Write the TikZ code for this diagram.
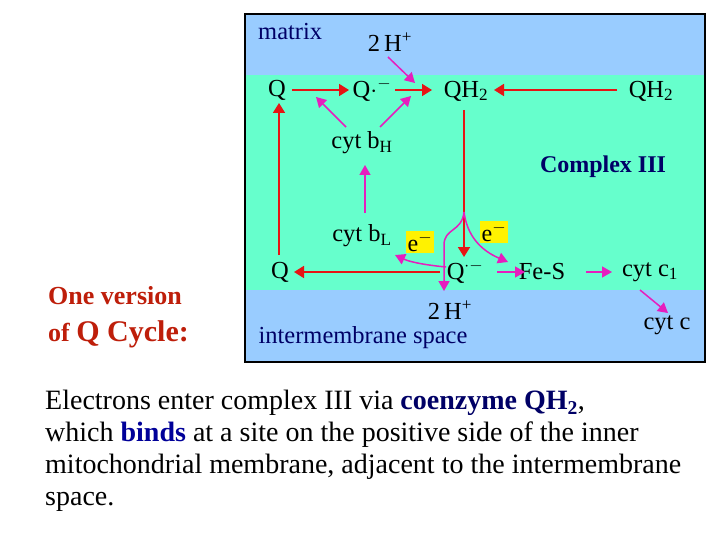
\documentclass[tikz,border=0pt]{standalone}
\usepackage{fontspec}
\setmainfont{Liberation Serif}
\usetikzlibrary{arrows.meta}
\begin{document}
\begin{tikzpicture}[x=1pt,y=-1pt,
 lbl/.style={font=\fontsize{24.5}{26}\selectfont, inner sep=0pt},
 red/.style={draw={rgb,255:red,200;green,40;blue,20}, line width=1.8pt, -{Triangle[length=10pt,width=12pt]}, color={rgb,255:red,230;green,20;blue,20}},
 mag/.style={draw={rgb,255:red,170;green,40;blue,170}, line width=1.5pt, -{Triangle[length=10pt,width=11pt]}, color={rgb,255:red,230;green,30;blue,190}},
 eb/.style={fill=yellow, font=\fontsize{24}{26}\selectfont, inner sep=1.5pt}]
\useasboundingbox (0,0) rectangle (720,540);
\fill[white] (0,0) rectangle (720,540);
\definecolor{mblue}{RGB}{153,204,255}
\definecolor{teal2}{RGB}{102,255,204}
\definecolor{dblue}{RGB}{0,0,102}
\definecolor{dred}{RGB}{190,30,10}
\fill[mblue] (245,14) rectangle (705,362);
\fill[teal2] (245,75) rectangle (705,290);
\draw[line width=1.2pt] (245,14) rectangle (705,362);
\node[lbl,anchor=west,text=dblue] (mx) at (258,32) {matrix};
\node[lbl] (h1) at (390,42) {2\,H\textsuperscript{+}};
\node[lbl] (q1) at (277,90) {Q};
\node[lbl] (qs1) at (372,90) {Q$\cdot^{-}$};
\node[lbl] (qh) at (466,91) {QH\textsubscript{2}};
\node[lbl] (qhr) at (651,91) {QH\textsubscript{2}};
\node[lbl] (bh) at (362,143) {cyt b\textsubscript{H}};
\node[lbl,text=dblue,font=\fontsize{24}{26}\selectfont\bfseries] (c3) at (603,167) {Complex III};
\node[lbl] (bl) at (362,236) {cyt b\textsubscript{L}};
\node[eb] (e1) at (420,242) {e$^{-}$};
\node[eb] (e2) at (494,232) {e$^{-}$};
\node[lbl] (q2) at (280,272) {Q};
\node[lbl] (qs2) at (465,272) {Q$^{\cdot-}$};
\node[lbl] (fes) at (542,272) {Fe-S};
\node[lbl] (c1) at (650,272) {cyt c\textsubscript{1}};
\node[lbl] (h2) at (450,310) {2\,H\textsuperscript{+}};
\node[lbl] (cc) at (667,325) {cyt c};
\node[lbl,text=dblue] (ims) at (363,338) {intermembrane space};
\coordinate (br) at (464,212);
% red arrows
\draw[red] (292,90) -- (349,90);
\draw[red] (395,90) -- (432,90);
\draw[red] (617,90) -- (494,90);
\draw[red] (279,255) -- (279,103);
\draw[red] (464,110) -- (464,257);
\draw[red] (440,272) -- (294,272);
% magenta
\draw[mag] (388,57) -- (415,83);
\draw[mag] (346,127) -- (316,97);
\draw[mag] (380,127) -- (411,96);
\draw[mag] (365,213) -- (365,165);
\draw[mag] (br) .. controls (462,232) and (444,228) .. (444,245) -- (444,291);
\draw[mag] (br) .. controls (467,235) and (480,250) .. (508,262);
\draw[mag] (446,267) .. controls (425,265) and (410,262) .. (395,255);
\draw[mag] (497,272) -- (525,272);
\draw[mag] (586,272) -- (612,272);
\draw[mag] (640,290) -- (668,313);
% left labels
\node[anchor=west,text=dred,inner sep=0pt,font=\fontsize{26}{28}\selectfont\bfseries] (ov) at (48,296) {One version};
\node[anchor=west,text=dred,inner sep=0pt,font=\fontsize{26}{28}\selectfont\bfseries] (oq) at (48,334) {of {\fontsize{30}{32}\selectfont Q Cycle:}};
\node[anchor=north west,inner sep=0pt,align=left,font=\fontsize{28}{32}\selectfont] (par) at (45,390) {Electrons enter complex III via {\color{dblue}\bfseries coenzyme QH\textsubscript{2}},\\which {\color{blue!60!black}\bfseries binds} at a site on the positive side of the inner\\mitochondrial membrane, adjacent to the intermembrane\\space.};
\end{tikzpicture}
\end{document}
